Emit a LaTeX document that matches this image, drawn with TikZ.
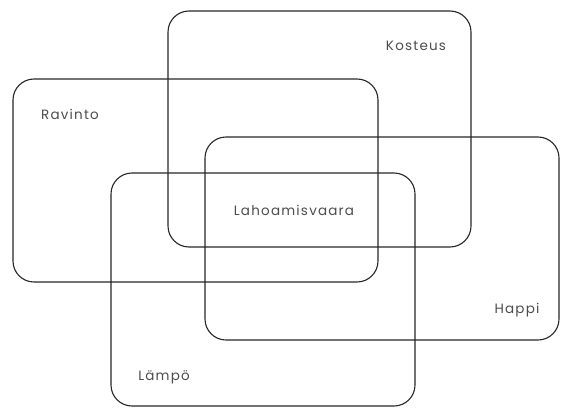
\documentclass[tikz,border=0pt]{standalone}
\usepackage{fontspec}
\setmainfont[LetterSpace=9]{Poppins}
\begin{document}
\begin{tikzpicture}[x=1pt,y=-1pt,
  setbox/.style={draw=black!85, line width=1.1pt, rounded corners=21pt},
  lbl/.style={text=black!70, font=\fontsize{13.5}{14}\selectfont, inner sep=0pt}]
\useasboundingbox (0,0) rectangle (561,409);
\draw[setbox] (168,11) rectangle (471,247);
\draw[setbox] (13,79) rectangle (378,282);
\draw[setbox] (205,137) rectangle (559,340);
\draw[setbox] (111,173) rectangle (415,406);
\node[lbl] (kosteus) at (416,46) {Kosteus};
\node[lbl] (ravinto) at (70,114) {Ravinto};
\node[lbl] (happi) at (517,310) {Happi};
\node[lbl] (lampo) at (164,377) {Lämpö};
\node[lbl] (laho) at (294,210) {Lahoamisvaara};
\end{tikzpicture}
\end{document}
